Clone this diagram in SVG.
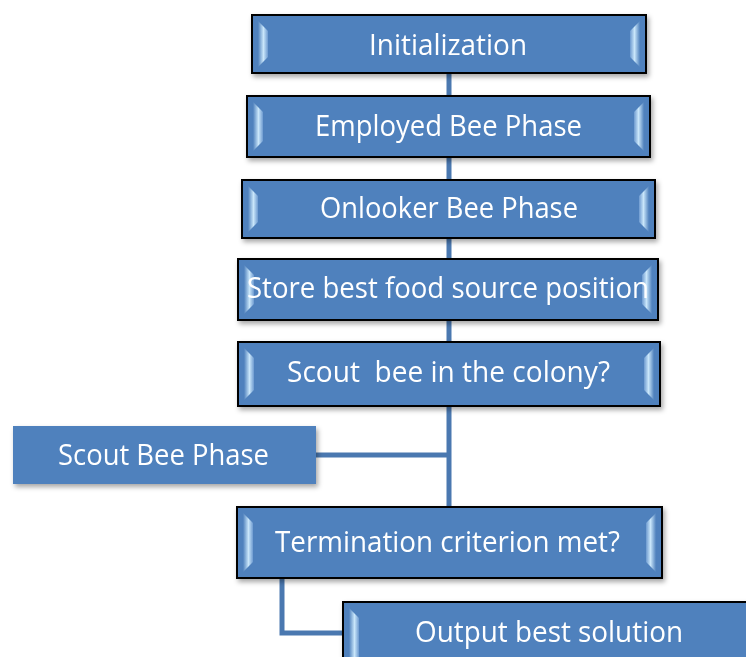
<svg xmlns="http://www.w3.org/2000/svg" width="746" height="657" viewBox="0 0 746 657">
<style>
.box{fill:#4F81BD;stroke:#000;stroke-width:2}
.plain{fill:#4F81BD}
.lb{fill:url(#gl)}
.rb{fill:url(#gr)}
.t{font-family:"Open Sans","Liberation Sans",sans-serif;font-size:28.5px;fill:#fff;text-anchor:middle}
.conn{fill:none;stroke:#4A78B0;stroke-width:5}
</style>
<defs>
<linearGradient id="gl" x1="0" y1="0" x2="1" y2="0">
<stop offset="0" stop-color="#4F81BD"/>
<stop offset="0.55" stop-color="#c9e6fa"/>
<stop offset="1" stop-color="#6d9ad0"/>
</linearGradient>
<linearGradient id="gr" x1="1" y1="0" x2="0" y2="0">
<stop offset="0" stop-color="#4F81BD"/>
<stop offset="0.55" stop-color="#c9e6fa"/>
<stop offset="1" stop-color="#6d9ad0"/>
</linearGradient>
<filter id="sh" x="-10%" y="-20%" width="130%" height="160%">
<feDropShadow dx="2" dy="3" stdDeviation="2.5" flood-color="#000" flood-opacity="0.35"/>
</filter>
</defs>

<g id="connectors">
<line class="conn" x1="449" y1="73" x2="449" y2="507"/>
<line class="conn" x1="316" y1="455" x2="449" y2="455"/>
<path class="conn" d="M282,578 V633 H345"/>
</g>

<g id="n1" filter="url(#sh)">
<rect class="box" x="252" y="15" width="394" height="58"/>
<polygon class="lb" points="258,21 268,31 268,57 258,67"/>
<polygon class="rb" points="640,21 630,31 630,57 640,67"/>
<text class="t" x="448" y="55" textLength="158" lengthAdjust="spacingAndGlyphs">Initialization</text>
</g>

<g id="n2" filter="url(#sh)">
<rect class="box" x="247" y="96" width="403" height="61"/>
<polygon class="lb" points="253,102 263,112 263,141 253,151"/>
<polygon class="rb" points="644,102 634,112 634,141 644,151"/>
<text class="t" x="448.5" y="136" textLength="267" lengthAdjust="spacingAndGlyphs">Employed Bee Phase</text>
</g>

<g id="n3" filter="url(#sh)">
<rect class="box" x="242" y="180" width="413" height="58"/>
<polygon class="lb" points="248,186 258,196 258,222 248,232"/>
<polygon class="rb" points="649,186 639,196 639,222 649,232"/>
<text class="t" x="449" y="218" textLength="258" lengthAdjust="spacingAndGlyphs">Onlooker Bee Phase</text>
</g>

<g id="n4" filter="url(#sh)">
<rect class="box" x="238" y="259" width="420" height="61"/>
<polygon class="lb" points="244,265 254,275 254,304 244,314"/>
<polygon class="rb" points="652,265 642,275 642,304 652,314"/>
<text class="t" x="448" y="298" textLength="402" lengthAdjust="spacingAndGlyphs">Store best food source position</text>
</g>

<g id="n5" filter="url(#sh)">
<rect class="box" x="238" y="342" width="422" height="64"/>
<polygon class="lb" points="244,348 254,358 254,390 244,400"/>
<polygon class="rb" points="654,348 644,358 644,390 654,400"/>
<text class="t" x="448.5" y="382" textLength="323" lengthAdjust="spacingAndGlyphs" xml:space="preserve">Scout  bee in the colony?</text>
</g>

<g id="n6" filter="url(#sh)">
<rect class="plain" x="13" y="426" width="303" height="58"/>
<text class="t" x="163.5" y="465" textLength="211" lengthAdjust="spacingAndGlyphs">Scout Bee Phase</text>
</g>

<g id="n7" filter="url(#sh)">
<rect class="box" x="237" y="507" width="425" height="71"/>
<polygon class="lb" points="243,513 253,523 253,562 243,572"/>
<polygon class="rb" points="656,513 646,523 646,562 656,572"/>
<text class="t" x="447.5" y="552" textLength="345" lengthAdjust="spacingAndGlyphs">Termination criterion met?</text>
</g>

<g id="n8" filter="url(#sh)">
<rect class="box" x="343" y="602" width="430" height="80"/>
<polygon class="lb" points="349,608 359,618 359,672 349,682"/>
<text class="t" x="549" y="642" textLength="268" lengthAdjust="spacingAndGlyphs">Output best solution</text>
</g>
</svg>
